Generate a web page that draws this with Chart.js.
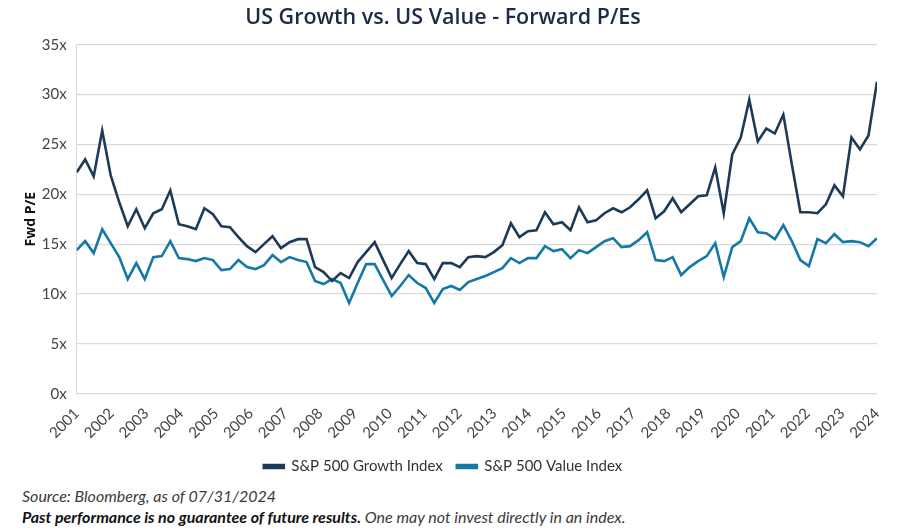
<!DOCTYPE html>
<html>
<head>
<meta charset="utf-8">
<script src="https://cdn.jsdelivr.net/npm/chart.js@4.4.1/dist/chart.umd.min.js"></script>
<style>
  html, body { margin: 0; padding: 0; background: #ffffff; }
  #wrap { position: absolute; left: 0; top: 0; width: 903px; height: 484px; }
  .foot { position: absolute; left: 22px; font-family: Lato, 'Open Sans', sans-serif; font-size: 16px; color: #3a3a3a; font-style: italic; white-space: nowrap; }
  #src { top: 486px; }
  #disc { top: 507px; }
  #disc b { font-weight: 700; color: #111; }
</style>
</head>
<body>
<div id="wrap"><canvas id="c"></canvas></div>
<div class="foot" id="src">Source: Bloomberg, as of 07/31/2024</div>
<div class="foot" id="disc"><b>Past performance is no guarantee of future results.</b> One may not invest directly in an index.</div>
<script>
// Year tick labels (x axis)
const years = ['2001','2002','2003','2004','2005','2006','2007','2008','2009','2010','2011','2012',
               '2013','2014','2015','2016','2017','2018','2019','2020','2021','2022','2023','2024'];

// Quarterly forward P/E, S&P 500 Growth Index
const growth = [
  22.2, 23.5, 21.8, 26.4, 21.9, 19.2, 16.8, 18.5, 16.6, 18.1,
  18.5, 20.4, 17.0, 16.8, 16.5, 18.6, 18.0, 16.8, 16.7, 15.7,
  14.8, 14.2, 15.0, 15.8, 14.6, 15.2, 15.5, 15.5, 12.7, 12.2,
  11.3, 12.1, 11.6, 13.2, 14.2, 15.2, 13.4, 11.6, 13.0, 14.3,
  13.1, 13.0, 11.5, 13.1, 13.1, 12.7, 13.7, 13.8, 13.7, 14.2,
  14.9, 17.1, 15.7, 16.3, 16.4, 18.2, 17.0, 17.2, 16.4, 18.7,
  17.2, 17.4, 18.1, 18.6, 18.2, 18.7, 19.5, 20.4, 17.6, 18.3,
  19.6, 18.2, 19.0, 19.8, 19.9, 22.7, 18.1, 24.0, 25.7, 29.5,
  25.3, 26.6, 26.1, 28.0, 23.0, 18.2, 18.2, 18.1, 19.0, 20.9,
  19.8, 25.7, 24.5, 25.9, 31.3
];

// Quarterly forward P/E, S&P 500 Value Index
const value = [
  14.4, 15.3, 14.1, 16.5, 15.1, 13.7, 11.5, 13.1, 11.5, 13.7,
  13.8, 15.3, 13.6, 13.5, 13.3, 13.6, 13.4, 12.4, 12.5, 13.4,
  12.7, 12.5, 12.9, 13.9, 13.2, 13.7, 13.4, 13.2, 11.3, 11.0,
  11.5, 11.1, 9.1, 11.1, 13.0, 13.0, 11.4, 9.8, 10.8, 11.9,
  11.1, 10.6, 9.1, 10.5, 10.8, 10.4, 11.2, 11.5, 11.8, 12.2,
  12.6, 13.6, 13.1, 13.6, 13.6, 14.8, 14.3, 14.5, 13.6, 14.4,
  14.1, 14.7, 15.3, 15.6, 14.7, 14.8, 15.4, 16.2, 13.4, 13.3,
  13.7, 11.9, 12.7, 13.3, 13.8, 15.1, 11.7, 14.7, 15.3, 17.6,
  16.2, 16.1, 15.5, 16.9, 15.3, 13.4, 12.8, 15.5, 15.1, 16.0,
  15.2, 15.3, 15.2, 14.8, 15.6
];

const seriesNames = ['S&P 500 Growth Index', 'S&P 500 Value Index'];
const yTicks = [0, 5, 10, 15, 20, 25, 30, 35];

const lastIdx = growth.length - 1;
const toPts = arr => arr.map((v, i) => ({ x: i, y: v }));
const tickFont = { family: "Lato, 'Open Sans', sans-serif", size: 15 };

new Chart(document.getElementById('c'), {
  type: 'line',
  data: {
    datasets: [
      { label: seriesNames[0], data: toPts(growth), borderColor: '#1d3a56', backgroundColor: '#1d3a56',
        borderWidth: 2.6, pointRadius: 0, tension: 0 },
      { label: seriesNames[1], data: toPts(value), borderColor: '#1479a6', backgroundColor: '#1479a6',
        borderWidth: 2.6, pointRadius: 0, tension: 0 }
    ]
  },
  options: {
    responsive: true,
    maintainAspectRatio: false,
    animation: false,
    layout: { padding: { left: 9, right: 26, top: 0, bottom: 0 } },
    plugins: {
      title: {
        display: true,
        text: 'US Growth vs. US Value - Forward P/Es',
        color: '#1c2a44',
        font: { family: "'Open Sans', sans-serif", size: 21.5, weight: '600' },
        padding: { top: 5, bottom: 14 }
      },
      legend: {
        position: 'bottom',
        labels: {
          boxWidth: 20, boxHeight: 3, padding: 14,
          color: '#333',
          font: { family: "Lato, 'Open Sans', sans-serif", size: 15 }
        }
      },
      tooltip: { enabled: false }
    },
    scales: {
      x: {
        type: 'linear',
        min: 0,
        max: lastIdx,
        grid: { display: false },
        border: { display: false },
        afterBuildTicks: scale => {
          scale.ticks = years.map((y, k) => ({ value: k * lastIdx / (years.length - 1) }));
        },
        ticks: {
          autoSkip: false,
          maxRotation: 45,
          minRotation: 45,
          padding: 3,
          color: '#444',
          font: tickFont,
          callback: (v, idx) => years[idx]
        }
      },
      y: {
        min: 0,
        max: 35,
        afterBuildTicks: scale => { scale.ticks = yTicks.map(v => ({ value: v })); },
        grid: { color: '#d9d9d9', lineWidth: 1.2, drawTicks: false },
        border: { display: true, color: '#d9d9d9' },
        ticks: {
          padding: 10,
          color: '#444',
          font: tickFont,
          callback: v => v + 'x'
        },
        title: {
          display: true,
          text: 'Fwd P/E',
          color: '#111',
          font: { family: "'Open Sans', sans-serif", size: 14, weight: '700' },
          padding: { top: 14, bottom: -8 }
        }
      }
    }
  }
});
</script>
</body>
</html>
